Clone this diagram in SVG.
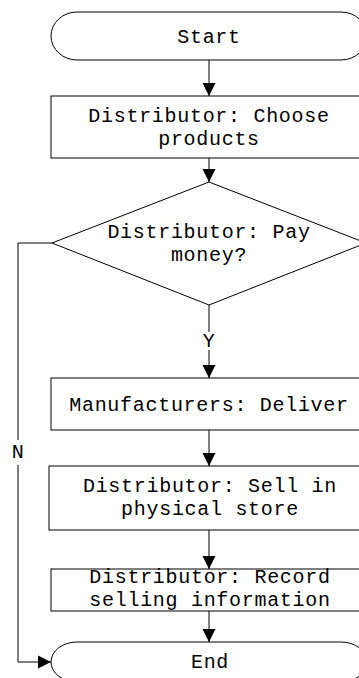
<svg xmlns="http://www.w3.org/2000/svg" width="359" height="678" viewBox="0 0 359 678">
<style>
.s{fill:#fff;stroke:#000;stroke-width:1}
.c{fill:none;stroke:#000;stroke-width:1}
text{font-family:"Liberation Mono","DejaVu Sans Mono",monospace;font-size:20px;letter-spacing:0.7px;text-anchor:middle;fill:#000}
</style>
<defs>
<marker id="ah" markerUnits="userSpaceOnUse" markerWidth="14" markerHeight="14" refX="13" refY="7" orient="auto">
<path d="M0,0.5 L13,7 L0,13.5 Z" fill="#000"/>
</marker>
</defs>
<rect width="359" height="678" fill="#fff"/>
<g id="connectors">
<line class="c" x1="209" y1="60" x2="209" y2="96" marker-end="url(#ah)"/>
<line class="c" x1="209" y1="158" x2="209" y2="182" marker-end="url(#ah)"/>
<line class="c" x1="209" y1="305" x2="209" y2="332"/>
<line class="c" x1="209" y1="350" x2="209" y2="378" marker-end="url(#ah)"/>
<line class="c" x1="209" y1="430" x2="209" y2="466" marker-end="url(#ah)"/>
<line class="c" x1="209" y1="530" x2="209" y2="569" marker-end="url(#ah)"/>
<line class="c" x1="209" y1="611" x2="209" y2="642" marker-end="url(#ah)"/>
<polyline class="c" points="52,243 18,243 18,440"/>
<polyline class="c" points="18,465 18,662 51,662" marker-end="url(#ah)"/>
<text x="209" y="347">Y</text>
<text x="18" y="458">N</text>
</g>
<g id="start">
<rect class="s" x="51" y="12" width="316" height="48" rx="26" ry="24"/>
<text x="209" y="43">Start</text>
</g>
<g id="choose">
<rect class="s" x="51" y="96" width="316" height="62"/>
<text x="209" y="122">Distributor: Choose</text>
<text x="209" y="145">products</text>
</g>
<g id="pay">
<polygon class="s" points="209,182 366,243 209,305 52,243"/>
<text x="209" y="238">Distributor: Pay</text>
<text x="209" y="261">money?</text>
</g>
<g id="deliver">
<rect class="s" x="51" y="378" width="316" height="52"/>
<text x="209" y="411">Manufacturers: Deliver</text>
</g>
<g id="sell">
<rect class="s" x="49" y="466" width="320" height="64"/>
<text x="210" y="492">Distributor: Sell in</text>
<text x="210" y="515">physical store</text>
</g>
<g id="record">
<rect class="s" x="51" y="569" width="316" height="42"/>
<text x="210" y="583">Distributor: Record</text>
<text x="210" y="606">selling information</text>
</g>
<g id="end">
<rect class="s" x="51" y="642" width="316" height="40" rx="26" ry="20"/>
<text x="210" y="668">End</text>
</g>
</svg>
